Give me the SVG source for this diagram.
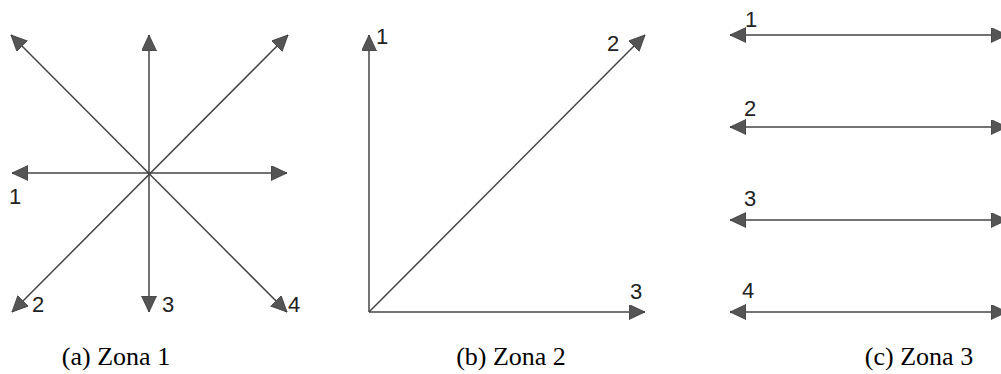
<svg xmlns="http://www.w3.org/2000/svg" width="1001" height="374" viewBox="0 0 1001 374">
<style>
.ln{stroke:#444;stroke-width:1.5;fill:none}
.lbl{font-family:"Liberation Sans",Arial,sans-serif;font-size:22px;fill:#222}
.cap{font-family:"Liberation Serif","Times New Roman",serif;font-size:26px;fill:#000;text-anchor:middle}
</style>
<defs>
<marker id="ah" markerUnits="userSpaceOnUse" markerWidth="17" markerHeight="16" refX="16" refY="7.5" orient="auto-start-reverse" viewBox="0 0 17 16">
<path d="M0,0 L16,7.5 L0,15 z" fill="#555" stroke="#3a3a3a" stroke-width="0.8"/>
</marker>
</defs>
<rect width="1001" height="374" fill="#fff"/>
<g id="connectors">
<line class="ln" x1="12" y1="173" x2="287" y2="173" marker-start="url(#ah)" marker-end="url(#ah)"/>
<line class="ln" x1="149" y1="35" x2="149" y2="312" marker-start="url(#ah)" marker-end="url(#ah)"/>
<line class="ln" x1="11" y1="35" x2="287" y2="312" marker-start="url(#ah)" marker-end="url(#ah)"/>
<line class="ln" x1="288" y1="35" x2="12" y2="312" marker-start="url(#ah)" marker-end="url(#ah)"/>
<line class="ln" x1="369" y1="312" x2="369" y2="35" marker-end="url(#ah)"/>
<line class="ln" x1="369" y1="312" x2="645" y2="312" marker-end="url(#ah)"/>
<line class="ln" x1="369" y1="312" x2="645" y2="35" marker-end="url(#ah)"/>
<line class="ln" x1="730" y1="35" x2="1007" y2="35" marker-start="url(#ah)" marker-end="url(#ah)"/>
<line class="ln" x1="730" y1="127" x2="1007" y2="127" marker-start="url(#ah)" marker-end="url(#ah)"/>
<line class="ln" x1="730" y1="220" x2="1007" y2="220" marker-start="url(#ah)" marker-end="url(#ah)"/>
<line class="ln" x1="730" y1="312" x2="1007" y2="312" marker-start="url(#ah)" marker-end="url(#ah)"/>
</g>
<g id="zone1">
<text class="lbl" x="9" y="204">1</text>
<text class="lbl" x="32" y="312">2</text>
<text class="lbl" x="162" y="312">3</text>
<text class="lbl" x="288" y="312">4</text>
<text class="cap" x="116" y="365">(a) Zona 1</text>
</g>
<g id="zone2">
<text class="lbl" x="376" y="44">1</text>
<text class="lbl" x="607" y="51">2</text>
<text class="lbl" x="630" y="299">3</text>
<text class="cap" x="511" y="365">(b) Zona 2</text>
</g>
<g id="zone3">
<text class="lbl" x="745" y="27">1</text>
<text class="lbl" x="744" y="116">2</text>
<text class="lbl" x="744" y="206">3</text>
<text class="lbl" x="742" y="298">4</text>
<text class="cap" x="919" y="365">(c) Zona 3</text>
</g>
</svg>
